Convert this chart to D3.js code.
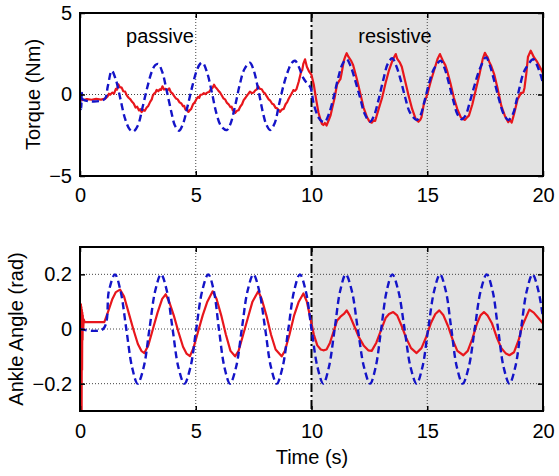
<!DOCTYPE html>
<html><head><meta charset="utf-8">
<script src="https://cdn.jsdelivr.net/npm/d3@7"></script>
<style>
body{margin:0;background:#fff;}
svg{display:block;font-family:"Liberation Sans",Arial,sans-serif;}
</style></head>
<body><svg id="c" width="559" height="476"></svg>
<script>
// ---------- data ----------
const xTicks = [0, 5, 10, 15, 20];
const torqueTicks = [-5, 0, 5];
const angleTicks = [-0.2, 0, 0.2];
const phaseSplit = 10;
const phaseLabels = ["passive", "resistive"];

// top plot, dashed blue (torque reference)
const torqueBlue = [[0,-0.2],[0.05,-0.9],[0.08,0.1],[0.12,-0.3],[1.05,-0.3],[1.2,0.5],[1.37,1.46],[1.55,0.9],[1.75,-0.3],[1.95,-1.5],[2.15,-2.15],[2.3,-2.28],[2.5,-1.9],[2.7,-0.8],[2.9,0.4],[3.1,1.4],[3.25,1.8],[3.38,1.87],[3.55,1.4],[3.75,0.2],[3.95,-1.1],[4.1,-1.9],[4.28,-2.22],[4.45,-1.8],[4.65,-0.7],[4.85,0.5],[5.05,1.5],[5.2,1.9],[5.3,1.95],[5.5,1.3],[5.7,0.1],[5.9,-1.2],[6.1,-1.95],[6.34,-2.18],[6.5,-1.8],[6.7,-0.7],[6.9,0.6],[7.1,1.55],[7.34,1.95],[7.5,1.5],[7.7,0.3],[7.9,-1.1],[8.05,-1.85],[8.21,-2.18],[8.4,-1.8],[8.6,-0.6],[8.8,0.6],[9.0,1.5],[9.15,1.95],[9.29,2.07],[9.45,1.7],[9.65,1.0],[9.8,0.7],[9.95,0.45],[10.1,-0.6],[10.3,-1.4],[10.45,-1.65],[10.58,-1.67],[10.75,-1.2],[10.95,-0.2],[11.15,1.0],[11.35,1.9],[11.52,2.16],[11.7,1.7],[11.9,0.8],[12.1,-0.2],[12.3,-1.2],[12.53,-1.67],[12.7,-1.3],[12.9,-0.3],[13.1,0.9],[13.3,1.9],[13.49,2.22],[13.65,1.8],[13.85,0.9],[14.05,-0.2],[14.25,-1.1],[14.54,-1.56],[14.7,-1.3],[14.9,-0.3],[15.1,0.8],[15.3,1.6],[15.58,2.07],[15.75,1.6],[15.95,0.6],[16.15,-0.5],[16.3,-1.2],[16.49,-1.52],[16.65,-1.3],[16.85,-0.4],[17.05,0.6],[17.25,1.5],[17.54,2.28],[17.7,1.8],[17.9,0.8],[18.1,-0.3],[18.3,-1.2],[18.5,-1.56],[18.7,-1.2],[18.86,-0.34],[19.0,0.5],[19.15,1.3],[19.3,1.7],[19.58,2.16],[19.8,1.6],[20.0,0.7]];

// top plot, solid red (measured torque)
const torqueRed = [[0,-0.25],[0.1,-0.35],[0.3,-0.28],[0.5,-0.32],[0.7,-0.27],[0.9,-0.31],[1.1,-0.25],[1.2,-0.1],[1.25,0.05],[1.3,-0.02],[1.4,0.12],[1.47,0.05],[1.55,0.35],[1.6,0.3],[1.66,0.62],[1.72,0.45],[1.8,0.42],[1.87,0.2],[1.95,0.18],[2.02,-0.05],[2.1,-0.2],[2.18,-0.3],[2.25,-0.45],[2.32,-0.55],[2.4,-0.8],[2.47,-0.75],[2.55,-0.98],[2.6,-0.9],[2.66,-1.08],[2.73,-0.95],[2.8,-1.0],[2.88,-0.8],[2.95,-0.7],[3.03,-0.45],[3.1,-0.3],[3.15,-0.05],[3.2,0.05],[3.26,0.12],[3.31,0.28],[3.38,0.2],[3.45,0.32],[3.5,0.28],[3.56,0.5],[3.63,0.3],[3.7,0.35],[3.78,0.25],[3.85,0.38],[3.92,0.15],[4.0,0.05],[4.07,-0.1],[4.15,-0.25],[4.22,-0.3],[4.3,-0.48],[4.38,-0.55],[4.45,-0.72],[4.5,-0.7],[4.55,-0.92],[4.62,-0.88],[4.68,-1.07],[4.75,-0.95],[4.8,-0.9],[4.88,-0.6],[4.95,-0.5],[5.02,-0.3],[5.1,-0.15],[5.15,-0.2],[5.2,-0.02],[5.28,0.0],[5.35,0.08],[5.42,0.02],[5.5,0.12],[5.57,0.15],[5.65,0.32],[5.72,0.4],[5.79,0.6],[5.85,0.45],[5.9,0.38],[5.97,0.25],[6.05,0.12],[6.12,-0.05],[6.2,-0.25],[6.27,-0.3],[6.35,-0.52],[6.42,-0.6],[6.5,-0.78],[6.55,-0.75],[6.6,-0.97],[6.65,-0.95],[6.7,-1.13],[6.78,-1.0],[6.85,-0.97],[6.92,-0.75],[7.0,-0.6],[7.07,-0.35],[7.15,-0.2],[7.22,-0.05],[7.28,0.05],[7.34,0.17],[7.42,0.08],[7.5,0.12],[7.57,0.25],[7.63,0.3],[7.7,0.5],[7.77,0.35],[7.85,0.32],[7.92,0.15],[8.0,0.05],[8.07,-0.12],[8.15,-0.3],[8.22,-0.38],[8.3,-0.57],[8.37,-0.62],[8.45,-0.82],[8.52,-0.85],[8.58,-0.95],[8.64,-1.07],[8.72,-0.92],[8.8,-0.88],[8.88,-0.6],[8.95,-0.47],[9.02,-0.25],[9.1,-0.05],[9.16,0.1],[9.22,0.27],[9.28,0.22],[9.35,0.32],[9.45,0.8],[9.55,1.4],[9.6,1.5],[9.65,1.9],[9.72,2.16],[9.8,1.7],[9.85,1.55],[9.9,1.4],[10.0,1.2],[10.1,0.6],[10.2,-0.3],[10.3,-1.1],[10.4,-1.6],[10.45,-1.8],[10.51,-1.87],[10.58,-1.75],[10.65,-1.9],[10.75,-1.55],[10.82,-1.3],[10.9,-0.8],[11.0,-0.2],[11.1,0.6],[11.2,0.85],[11.25,0.95],[11.3,1.3],[11.4,2.1],[11.45,2.3],[11.52,2.53],[11.58,2.35],[11.65,2.2],[11.72,2.05],[11.8,1.8],[11.95,1.0],[12.1,0.1],[12.25,-0.8],[12.4,-1.4],[12.5,-1.65],[12.6,-1.73],[12.68,-1.6],[12.75,-1.62],[12.9,-0.9],[13.05,-0.2],[13.2,0.7],[13.35,1.5],[13.5,2.1],[13.64,2.48],[13.7,2.2],[13.75,2.1],[13.82,1.95],[13.9,1.7],[14.05,0.8],[14.2,-0.1],[14.35,-0.9],[14.5,-1.5],[14.62,-1.67],[14.7,-1.55],[14.75,-1.4],[14.85,-0.6],[15.0,0.0],[15.15,0.8],[15.3,1.5],[15.45,2.2],[15.55,2.48],[15.62,2.25],[15.7,2.0],[15.78,1.8],[15.85,1.5],[16.0,0.7],[16.15,-0.2],[16.3,-0.9],[16.45,-1.4],[16.55,-1.5],[16.63,-1.56],[16.72,-1.4],[16.8,-1.3],[16.95,-0.6],[17.1,0.3],[17.25,1.2],[17.4,2.2],[17.49,2.56],[17.55,2.4],[17.6,2.3],[17.68,2.0],[17.75,1.8],[17.9,1.2],[18.05,0.3],[18.2,-0.7],[18.35,-1.3],[18.5,-1.7],[18.57,-1.55],[18.65,-1.72],[18.75,-1.2],[18.9,-0.3],[19.05,0.1],[19.15,0.12],[19.2,0.4],[19.28,1.3],[19.35,2.3],[19.47,2.69],[19.55,2.45],[19.6,2.3],[19.75,2.0],[19.9,1.6],[20.0,1.3]];

// bottom plot, dashed blue (reference angle)
const angleBlue = [[0,0],[1.0,0],[1.25,0.14],[1.51,0.2],[1.75,0.14],[2.0,0],[2.25,-0.14],[2.49,-0.2],[2.75,-0.14],[3.0,0],[3.25,0.14],[3.5,0.2],[3.75,0.14],[4.0,0],[4.25,-0.14],[4.51,-0.2],[4.77,-0.14],[5.02,0],[5.28,0.14],[5.54,0.2],[5.78,0.14],[6.0,0],[6.24,-0.14],[6.48,-0.2],[6.74,-0.14],[6.99,0],[7.24,0.14],[7.49,0.2],[7.74,0.14],[8.0,0],[8.25,-0.14],[8.5,-0.2],[8.75,-0.14],[9.0,0],[9.25,0.14],[9.5,0.2],[9.75,0.14],[10.0,0],[10.26,-0.14],[10.51,-0.2],[10.75,-0.14],[11.0,0],[11.24,0.14],[11.48,0.2],[11.74,0.14],[12.0,0],[12.27,-0.14],[12.53,-0.2],[12.77,-0.14],[13.01,0],[13.25,0.14],[13.49,0.2],[13.75,0.14],[14.02,0],[14.28,-0.14],[14.54,-0.2],[14.79,-0.14],[15.04,0],[15.3,0.14],[15.55,0.2],[15.8,0.14],[16.04,0],[16.28,-0.14],[16.53,-0.2],[16.79,-0.14],[17.05,0],[17.31,0.14],[17.57,0.2],[17.82,0.14],[18.06,0],[18.3,-0.14],[18.55,-0.2],[18.8,-0.14],[19.05,0],[19.3,0.14],[19.55,0.2],[19.8,0.14],[20.0,0.04]];

// bottom plot, solid red (measured angle)
const angleRed = [[0.0,0.02],[0.04,0.09],[0.05,-0.3],[0.06,0.08],[0.07,-0.3],[0.08,0.07],[0.09,-0.15],[0.1,0.06],[0.11,-0.04],[0.12,0.05],[0.14,0.0],[0.16,0.035],[0.2,0.025],[1.05,0.025],[1.2,0.06],[1.4,0.11],[1.55,0.135],[1.73,0.144],[1.9,0.12],[2.1,0.06],[2.3,0.0],[2.5,-0.055],[2.65,-0.08],[2.78,-0.088],[2.95,-0.06],[3.15,0.0],[3.35,0.06],[3.55,0.11],[3.7,0.127],[3.85,0.1],[4.05,0.05],[4.25,-0.01],[4.45,-0.065],[4.6,-0.09],[4.75,-0.099],[4.9,-0.07],[5.1,-0.01],[5.3,0.05],[5.5,0.1],[5.73,0.138],[5.9,0.11],[6.1,0.05],[6.3,-0.02],[6.5,-0.08],[6.7,-0.1],[6.85,-0.08],[7.05,-0.02],[7.25,0.04],[7.45,0.1],[7.7,0.138],[7.85,0.11],[8.05,0.05],[8.25,-0.02],[8.45,-0.075],[8.71,-0.1],[8.85,-0.08],[9.05,-0.02],[9.25,0.05],[9.45,0.1],[9.65,0.13],[9.8,0.1],[9.95,0.04],[10.1,-0.02],[10.25,-0.06],[10.4,-0.075],[10.51,-0.078],[10.65,-0.075],[10.8,-0.05],[10.95,-0.01],[11.1,0.03],[11.25,0.045],[11.4,0.055],[11.52,0.068],[11.65,0.05],[11.85,0.01],[12.05,-0.03],[12.25,-0.06],[12.45,-0.078],[12.6,-0.08],[12.8,-0.05],[13.0,-0.005],[13.2,0.04],[13.35,0.055],[13.53,0.062],[13.7,0.05],[13.9,0.01],[14.1,-0.035],[14.3,-0.07],[14.54,-0.088],[14.75,-0.07],[14.95,-0.03],[15.15,0.02],[15.35,0.055],[15.52,0.068],[15.7,0.05],[15.9,0.01],[16.1,-0.04],[16.3,-0.08],[16.56,-0.096],[16.75,-0.08],[16.95,-0.035],[17.15,0.02],[17.3,0.05],[17.45,0.062],[17.6,0.05],[17.8,0.02],[18.0,-0.03],[18.2,-0.07],[18.4,-0.09],[18.55,-0.096],[18.75,-0.085],[18.95,-0.04],[19.1,0.01],[19.25,0.04],[19.41,0.071],[19.6,0.06],[19.8,0.04],[20.0,0.02]];

// ---------- drawing ----------
const svg = d3.select("#c");
svg.append("rect").attr("width",559).attr("height",476).attr("fill","#fff");
const FONT = 20;
const L = 80, R = 543;
const x = d3.scaleLinear().domain([0,20]).range([L,R]);

function panel(id, top, bottom, yDomain, yTicks, yFmt, series, ylabel, ylabelX, labelPad, showPhase) {
  const y = d3.scaleLinear().domain(yDomain).range([bottom, top]);
  const g = svg.append("g");
  const clipId = "clip" + id;
  g.append("clipPath").attr("id", clipId).append("rect")
    .attr("x", L).attr("y", top).attr("width", R-L).attr("height", bottom-top);
  g.append("rect").attr("x", x(phaseSplit)).attr("y", top)
    .attr("width", x(20)-x(phaseSplit)).attr("height", bottom-top).attr("fill", "#e2e2e2");
  const gridX = xTicks.filter(t => t > 0 && t < 20 && t !== phaseSplit);
  g.selectAll(".gx").data(gridX).enter().append("line")
    .attr("x1", d => x(d)).attr("x2", d => x(d)).attr("y1", top).attr("y2", bottom)
    .attr("stroke", "#444").attr("stroke-width", 1).attr("stroke-dasharray", "1,2");
  const gridY = yTicks.filter(t => t > yDomain[0] && t < yDomain[1]);
  g.selectAll(".gy").data(gridY).enter().append("line")
    .attr("x1", L).attr("x2", R).attr("y1", d => y(d)).attr("y2", d => y(d))
    .attr("stroke", "#444").attr("stroke-width", 1).attr("stroke-dasharray", "1,2");
  g.append("line").attr("x1", x(phaseSplit)).attr("x2", x(phaseSplit)).attr("y1", top).attr("y2", bottom)
    .attr("stroke", "#000").attr("stroke-width", 2).attr("stroke-dasharray", "9,3,2,3");
  const lg = g.append("g").attr("clip-path", `url(#${clipId})`);
  series.forEach(s => {
    const line = d3.line().x(d => x(d[0])).y(d => y(d[1])).curve(s.curve);
    lg.append("path").datum(s.data).attr("d", line).attr("fill", "none")
      .attr("stroke", s.color).attr("stroke-width", s.width)
      .attr("stroke-dasharray", s.dash || null).attr("stroke-linejoin", "round");
  });
  const ax = (sel) => sel.selectAll("text").attr("font-size", FONT).attr("fill", "#000").attr("font-family", '"Liberation Sans",Arial,sans-serif');
  g.append("g").attr("transform", `translate(0,${bottom})`)
    .call(d3.axisBottom(x).tickValues(xTicks).tickSize(-5).tickPadding(labelPad).tickFormat(d3.format("d")))
    .call(ax).call(s => s.select(".domain").remove());
  g.append("g").attr("transform", `translate(0,${top})`)
    .call(d3.axisTop(x).tickValues(xTicks).tickSize(-5).tickFormat(""))
    .call(s => s.select(".domain").remove());
  g.append("g").attr("transform", `translate(${L},0)`)
    .call(d3.axisLeft(y).tickValues(yTicks).tickSize(-5).tickPadding(8).tickFormat(yFmt))
    .call(ax).call(s => s.select(".domain").remove());
  g.append("g").attr("transform", `translate(${R},0)`)
    .call(d3.axisRight(y).tickValues(yTicks).tickSize(-5).tickFormat(""))
    .call(s => s.select(".domain").remove());
  g.selectAll(".tick line").attr("stroke", "#000").attr("stroke-width", 1.5);
  g.append("rect").attr("x", L).attr("y", top).attr("width", R-L).attr("height", bottom-top)
    .attr("fill", "none").attr("stroke", "#000").attr("stroke-width", 2);
  g.append("text").attr("transform", `translate(${ylabelX},${(top+bottom)/2}) rotate(-90)`)
    .attr("text-anchor", "middle").attr("font-size", FONT).text(ylabel);
  if (showPhase) {
    g.append("text").attr("x", 160).attr("y", 43).attr("text-anchor", "middle").attr("font-size", FONT).text(phaseLabels[0]);
    g.append("text").attr("x", 395).attr("y", 43).attr("text-anchor", "middle").attr("font-size", FONT).text(phaseLabels[1]);
  }
  return y;
}

const red = "#e8161c", blue = "#1414c8";
panel("t", 13, 176, [-5,5], torqueTicks, d3.format("d"), [
  {data: torqueRed, color: red, width: 2.2, curve: d3.curveLinear},
  {data: torqueBlue, color: blue, width: 2.4, dash: "7,4", curve: d3.curveCatmullRom}
], "Torque (Nm)", 40, 12, true);

panel("a", 247, 411, [-0.3,0.3], angleTicks, d => d === 0 ? "0" : d3.format(".1f")(d), [
  {data: angleRed, color: red, width: 2.2, curve: d3.curveLinear},
  {data: angleBlue, color: blue, width: 2.4, dash: "7,4", curve: d3.curveCatmullRom}
], "Ankle Angle (rad)", 23, 13, false);

svg.append("text").attr("x", 312).attr("y", 464).attr("text-anchor", "middle")
  .attr("font-size", FONT).text("Time (s)");
</script></body></html>
